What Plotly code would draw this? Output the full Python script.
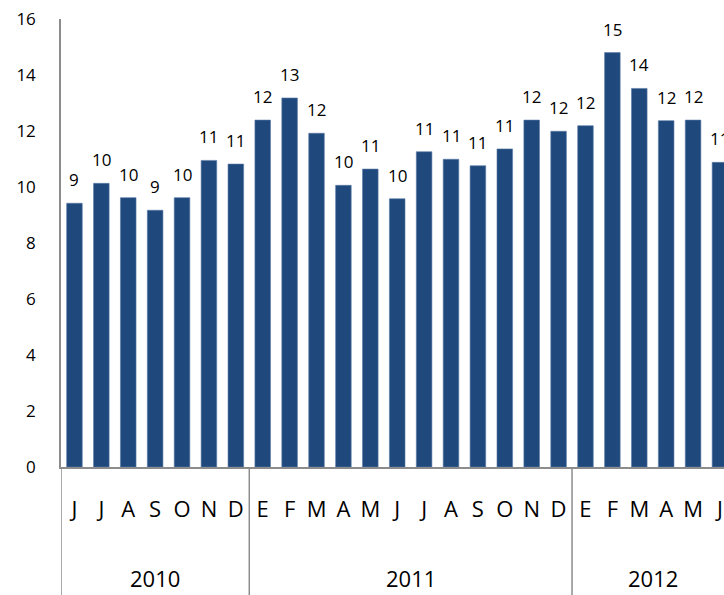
import plotly.graph_objects as go

# ---- data ----
periods = ["2010-06", "2010-07", "2010-08", "2010-09", "2010-10", "2010-11", "2010-12",
           "2011-01", "2011-02", "2011-03", "2011-04", "2011-05", "2011-06",
           "2011-07", "2011-08", "2011-09", "2011-10", "2011-11", "2011-12",
           "2012-01", "2012-02", "2012-03", "2012-04", "2012-05", "2012-06"]
month_labels = ["J", "J", "A", "S", "O", "N", "D",
                "E", "F", "M", "A", "M", "J", "J", "A", "S", "O", "N", "D",
                "E", "F", "M", "A", "M", "J"]
year_of_bar = ["2010"] * 7 + ["2011"] * 12 + ["2012"] * 6
values = [9.42, 10.13, 9.62, 9.17, 9.62, 10.95, 10.82,
          12.39, 13.18, 11.92, 10.06, 10.64, 9.58, 11.26, 10.99, 10.76, 11.36, 12.39, 11.99,
          12.19, 14.80, 13.52, 12.37, 12.39, 10.88]
y_ticks = [0, 2, 4, 6, 8, 10, 12, 14, 16]

FONT = "Open Sans"
BAR_COLOR = "#1F497D"
AXIS_COLOR = "#8c8c8c"

fig = go.Figure()
fig.add_trace(go.Bar(
    x=periods, y=values,
    marker=dict(color=BAR_COLOR, line=dict(color="#5a7aa6", width=0.6)),
    hoverinfo="x+y",
))

annotations = []
for p, v in zip(periods, values):
    annotations.append(dict(
        x=p, y=v, xref="x", yref="y", text=str(round(v)),
        showarrow=False, yanchor="bottom", yshift=10,
        font=dict(family=FONT, size=17, color="black"),
    ))

# year group labels and dividers
years = []
for y in year_of_bar:
    if y not in years:
        years.append(y)
shapes = []
plot_h = 595 - 19 - 128
for yr in years:
    idx = [i for i, y in enumerate(year_of_bar) if y == yr]
    center = (idx[0] + idx[-1]) / 2
    annotations.append(dict(
        x=center, y=-(578 - 467) / plot_h, xref="x", yref="paper",
        text=yr, showarrow=False, yanchor="middle",
        font=dict(family=FONT, size=22, color="black"),
    ))
    shapes.append(dict(
        type="line", xref="x", yref="paper",
        x0=idx[0] - 0.5, x1=idx[0] - 0.5, y0=0, y1=-0.3,
        line=dict(color=AXIS_COLOR, width=1.5),
    ))

fig.update_layout(
    width=724, height=595,
    margin=dict(l=61, r=0, t=19, b=128, autoexpand=False),
    paper_bgcolor="white", plot_bgcolor="white",
    showlegend=False,
    bargap=0.42,
    font=dict(family=FONT, color="black"),
    annotations=annotations,
    shapes=shapes,
    xaxis=dict(
        type="category", automargin=False,
        tickmode="array", tickvals=periods, ticktext=month_labels,
        range=[-0.5, 24.15],
        showline=True, linecolor=AXIS_COLOR, linewidth=1.5,
        ticks="", showgrid=False, zeroline=False,
        tickfont=dict(family=FONT, size=22, color="black"),
        ticklabelstandoff=22,
    ),
    yaxis=dict(
        range=[0, 16], tickmode="array", tickvals=y_ticks, automargin=False,
        showline=True, linecolor=AXIS_COLOR, linewidth=1.5,
        ticks="", showgrid=False, zeroline=False,
        tickfont=dict(family=FONT, size=17, color="black"),
        ticklabelstandoff=20,
    ),
)

fig.write_html(
    "out.html",
    config={"displayModeBar": False},
    post_script="document.body.style.margin='0';document.body.style.overflow='hidden';",
)
